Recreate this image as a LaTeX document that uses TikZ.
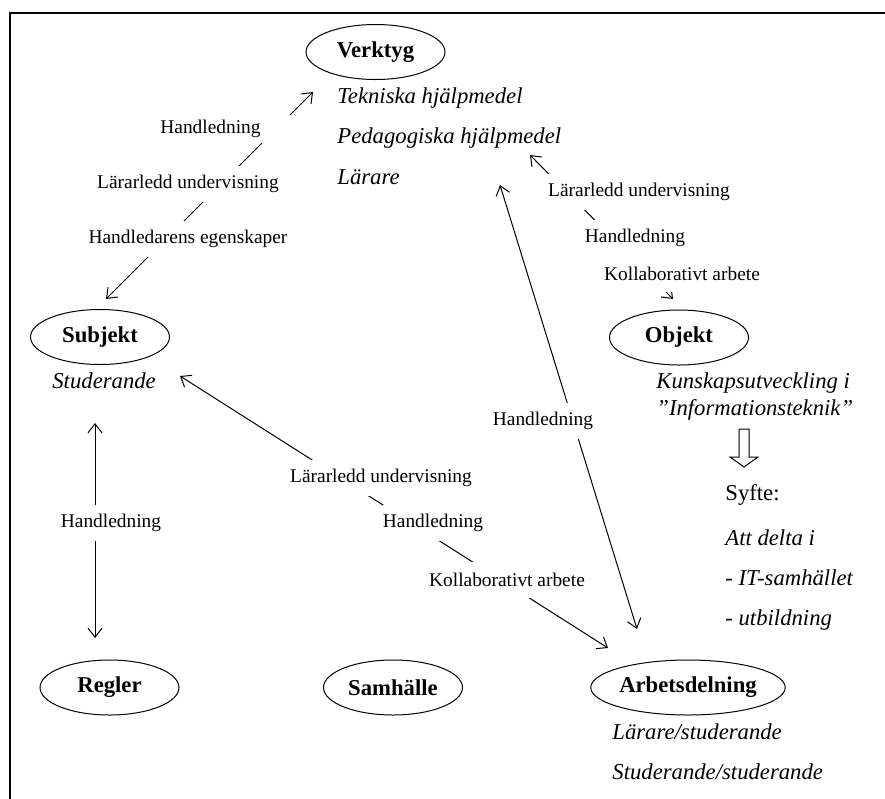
\documentclass[tikz,border=0pt]{standalone}
\usepackage{fontspec}
\setmainfont{Liberation Serif}
\usetikzlibrary{shapes.geometric,arrows.meta}

\begin{document}
\begin{tikzpicture}[x=0.5pt,y=-0.5pt]
  % Local definitions
  \def\smallsize{\fontsize{9.7}{11.6}\selectfont}
  \def\bigsize{\fontsize{11.35}{13.6}\selectfont}

  % Styles
  \tikzstyle{frame}=[line width=1.2pt]
  \tikzstyle{entity}=[ellipse,draw,line width=0.5pt,inner sep=0pt,minimum width=69.5pt,minimum height=27.5pt,font=\bigsize\bfseries]
  \tikzstyle{item}=[anchor=base west,inner sep=0pt,font=\bigsize\itshape]
  \tikzstyle{plain item}=[anchor=base west,inner sep=0pt,font=\bigsize]
  \tikzstyle{link}=[line width=0.5pt,{Straight Barb[length=4.5pt,width=7pt]}-{Straight Barb[length=4.5pt,width=7pt]}]
  \tikzstyle{link text}=[fill=white,inner sep=0pt,minimum height=18pt,font=\smallsize]

  % The graphic
  \useasboundingbox (0,0) rectangle (885,799);
  \draw[frame] (885,13) -- (10,13) -- (10,799);

  \node[entity] (verktyg) at (375.5,52) {Verktyg};
  \node[entity] (subjekt) at (100,337) {Subjekt};
  \node[entity] (objekt) at (679,337.5) {Objekt};
  \node[entity] (regler) at (109.5,687.5) {Regler};
  \node[entity] (samhalle) at (393,687.5) {Samhälle};
  \node[entity,minimum width=97pt] (arbete) at (688,687.5) {Arbetsdelning};

  \node[item] (tekn) at (337,103) {Tekniska hjälpmedel};
  \node[item] (peda) at (337,143) {Pedagogiska hjälpmedel};
  \node[item] (larare) at (337,184) {Lärare};
  \node[item] (stud) at (52,388) {Studerande};
  \node[item] (kunskap) at (656,388) {Kunskapsutveckling i};
  \node[item] (infotek) at (656,415) {”Informationsteknik”};
  \node[plain item] (syfte) at (725,500) {Syfte:};
  \node[item] (delta) at (725,545.5) {Att delta i};
  \node[item] (itsam) at (725,585.5) {- IT-samhället};
  \node[item] (utb) at (725,625.5) {- utbildning};
  \node[item] (larstud) at (612,739) {Lärare/studerande};
  \node[item] (studstud) at (612,779) {Studerande/studerande};

  % hollow arrow towards the purpose
  \draw[line width=0.5pt] (739,429) -- (749,429) -- (749,457) -- (758,457)
    -- (744,467) -- (730,457) -- (739,457) -- cycle;

  % Connector ends
  \coordinate (v1) at (313,92);  \coordinate (s1) at (106,299);
  \coordinate (v2) at (530,155); \coordinate (o2) at (673,299);
  \coordinate (s3) at (180,376); \coordinate (a3) at (608,648);
  \coordinate (v4) at (500,185); \coordinate (a4) at (637,629);
  \coordinate (s5) at (95,423);  \coordinate (r5) at (95,638);

  \draw[link] (s1) -- (v1);
  \draw[link] (v2) -- (o2);
  \draw[link] (s3) -- (a3);
  \draw[link] (v4) -- (a4);
  \draw[link] (s5) -- (r5);

  % Labels (the white boxes break the lines)
  \node[link text,anchor=west,text width=67.5pt,align=left,minimum height=14pt] (hl1) at (160,128.5) {Handledning};
  \node[link text] (lu1) at (188,183.5) {Lärarledd undervisning};
  \node[link text] (he1) at (188,239) {Handledarens egenskaper};
  \node[link text] (lu2) at (639,192) {Lärarledd undervisning};
  \node[link text] (hl2) at (635,238) {Handledning};
  \node[link text] (ka2) at (682,274) {Kollaborativt arbete};
  \node[link text] (lu3) at (381,477.5) {Lärarledd undervisning};
  \node[link text] (hl3) at (433,523) {Handledning};
  \node[link text] (ka3) at (507,580) {Kollaborativt arbete};
  \node[link text] (hl4) at (543,421) {Handledning};
  \node[link text] (hl5) at (111,523) {Handledning};
\end{tikzpicture}
\end{document}
